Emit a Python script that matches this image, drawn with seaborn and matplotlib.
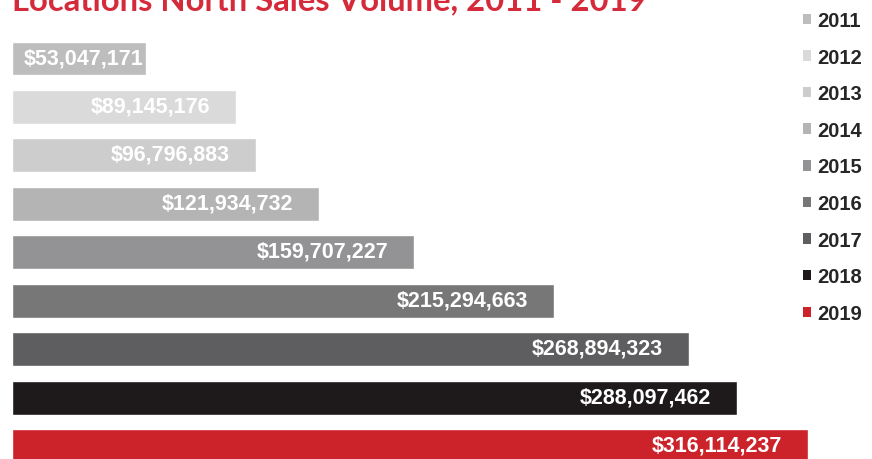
import matplotlib
matplotlib.use("Agg")
import matplotlib.pyplot as plt
from matplotlib.patches import Patch
import seaborn as sns
import pandas as pd

# Annual sales volume, Locations North
years = ["2011", "2012", "2013", "2014", "2015", "2016", "2017", "2018", "2019"]
volumes = [53047171, 89145176, 96796883, 121934732, 159707227,
           215294663, 268894323, 288097462, 316114237]
labels = ["$53,047,171", "$89,145,176", "$96,796,883", "$121,934,732", "$159,707,227",
          "$215,294,663", "$268,894,323", "$288,097,462", "$316,114,237"]
colors = ["#bdbdbd", "#dadada", "#cdcdcd", "#b4b4b4", "#939395",
          "#777777", "#5e5e60", "#1e1a1b", "#cc2229"]
title = "Locations North Sales Volume, 2011 - 2019"

df = pd.DataFrame({"year": years, "volume": volumes})

sns.set_theme(style="white")
plt.rcParams["font.family"] = ["Liberation Sans", "DejaVu Sans"]

W, H = 872, 460
fig = plt.figure(figsize=(W / 100, H / 100), dpi=100)
fig.patch.set_facecolor("white")

ax = fig.add_axes([12 / W, 0, 860 / W, 1])
sns.barplot(data=df, x="volume", y="year", hue="year", order=years,
            hue_order=years, palette=colors, orient="h", width=0.70,
            legend=False, saturation=1, ax=ax)

px_per_unit = 2.518e-6
ax.set_xlim(0, 860 / px_per_unit)
pitch = 48.44
ax.set_ylim((H - 59.5) / pitch, -59.5 / pitch)
ax.axis("off")

# value labels, right-aligned inside each bar
for i, (v, lab) in enumerate(zip(volumes, labels)):
    x = v - 26 / px_per_unit
    if v * px_per_unit < 170:
        x = v - 2 / px_per_unit
    ax.text(x, i - 0.02, lab, ha="right", va="center", color="white",
            fontsize=15.5, fontweight="bold")

# title, partially cut by the top edge
fig.text(12 / W, 1 - 10 / H, title, color="#d42a3a", fontsize=23.6,
         fontweight="bold", family=["Lato", "DejaVu Sans"], va="baseline", ha="left")

handles = [Patch(facecolor=c, edgecolor="none") for c in colors]
fig.legend(handles, years, loc="upper left", bbox_to_anchor=(803 / W, 1 - 12 / H),
           frameon=False, prop={"weight": "bold", "size": 14.5},
           handlelength=0.42, handleheight=0.42, handletextpad=0.3,
           labelspacing=0.875, borderpad=0, borderaxespad=0)

fig.savefig("out.png", dpi=100, facecolor="white")
